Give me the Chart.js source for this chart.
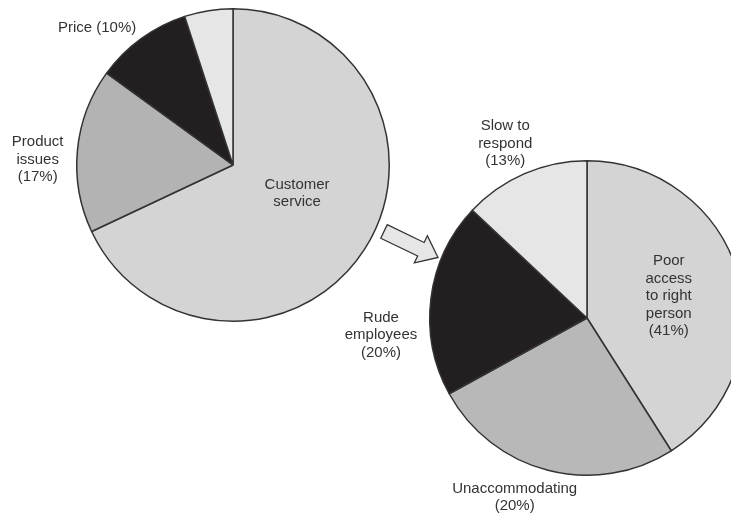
<!DOCTYPE html>
<html>
<head>
<meta charset="utf-8">
<script src="https://cdn.jsdelivr.net/npm/chart.js@4/dist/chart.umd.min.js"></script>
<style>
  html, body { margin: 0; padding: 0; background: #ffffff; overflow: hidden; width: 731px; height: 513px; }
  canvas { position: absolute; left: 0; top: 0; }
</style>
</head>
<body>
<canvas id="left" width="731" height="513" style="width:731px;height:513px"></canvas>
<canvas id="right" width="760" height="513" style="width:760px;height:513px"></canvas>
<script>
// ---- Data: reasons customers leave ----
const leftCategories = ['Customer service', 'Product issues', 'Price', 'Other'];
const leftValues = [68, 17, 10, 5];
const leftLabelLines = [['Customer', 'service'], ['Product', 'issues', '(17%)'], ['Price (10%)'], []];

// ---- Data: breakdown of customer service ----
const rightCategories = ['Poor access to right person', 'Unaccommodating', 'Rude employees', 'Slow to respond'];
const rightValues = [41, 26, 20, 13];
const rightLabelLines = [['Poor', 'access', 'to right', 'person', '(41%)'], ['Unaccommodating', '(20%)'], ['Rude', 'employees', '(20%)'], ['Slow to', 'respond', '(13%)']];

const FONT = '15px "Liberation Sans", Arial, Helvetica, sans-serif';
const TEXT_COLOR = '#333333';
const LINE_H = 17.5;

const sliceLabels = {
  id: 'sliceLabels',
  afterDatasetsDraw(chart, args, opts) {
    const ctx = chart.ctx;
    const meta = chart.getDatasetMeta(0);
    ctx.save();
    ctx.font = FONT;
    ctx.fillStyle = TEXT_COLOR;
    ctx.textAlign = 'center';
    ctx.textBaseline = 'middle';
    meta.data.forEach((arc, i) => {
      const lines = opts.lines[i] || [];
      if (!lines.length) return;
      const p = arc.getProps(['x', 'y', 'outerRadius'], true);
      const off = opts.offsets[i];
      const cx = p.x + off[0] * p.outerRadius;
      const cy = p.y + off[1] * p.outerRadius;
      const startY = cy - (lines.length - 1) * LINE_H / 2;
      lines.forEach((t, k) => ctx.fillText(t, cx, startY + k * LINE_H));
    });
    ctx.restore();
  }
};

const arrowPlugin = {
  id: 'arrowPlugin',
  afterDraw(chart, args, opts) {
    if (!opts.show) return;
    const ctx = chart.ctx;
    const T = [384, 231.5], P = [438, 257.5];
    const dx = P[0] - T[0], dy = P[1] - T[1];
    const len = Math.hypot(dx, dy);
    const u = [dx / len, dy / len], n = [-u[1], u[0]];
    const headLen = 19, shaftW = 7.5, headW = 15;
    const B = [T[0] + u[0] * (len - headLen), T[1] + u[1] * (len - headLen)];
    const pts = [
      [T[0] + n[0] * shaftW, T[1] + n[1] * shaftW],
      [B[0] + n[0] * shaftW, B[1] + n[1] * shaftW],
      [B[0] + n[0] * headW, B[1] + n[1] * headW],
      P,
      [B[0] - n[0] * headW, B[1] - n[1] * headW],
      [B[0] - n[0] * shaftW, B[1] - n[1] * shaftW],
      [T[0] - n[0] * shaftW, T[1] - n[1] * shaftW]
    ];
    ctx.save();
    ctx.beginPath();
    pts.forEach((pt, i) => i ? ctx.lineTo(pt[0], pt[1]) : ctx.moveTo(pt[0], pt[1]));
    ctx.closePath();
    ctx.fillStyle = '#e6e6e6';
    ctx.fill();
    ctx.lineWidth = 1.3;
    ctx.strokeStyle = '#333333';
    ctx.lineJoin = 'miter';
    ctx.stroke();
    ctx.restore();
  }
};

function makePie(id, categories, values, colors, padding, lines, offsets, showArrow) {
  return new Chart(document.getElementById(id), {
    type: 'pie',
    data: {
      labels: categories,
      datasets: [{
        data: values,
        backgroundColor: colors,
        borderColor: '#333333',
        borderWidth: 1.5,
        hoverOffset: 0
      }]
    },
    options: {
      responsive: false,
      animation: false,
      events: [],
      layout: { padding: padding },
      plugins: {
        legend: { display: false },
        tooltip: { enabled: false },
        title: { display: false },
        sliceLabels: { lines: lines, offsets: offsets },
        arrowPlugin: { show: showArrow }
      }
    },
    plugins: [sliceLabels, arrowPlugin]
  });
}

makePie('left', leftCategories, leftValues,
  ['#d4d4d4', '#b3b3b3', '#231f20', '#e6e6e6'],
  { left: 76, top: 8, right: 341, bottom: 191 },
  leftLabelLines,
  [[0.41, 0.18], [-1.25, -0.035], [-0.87, -0.88], [0, 0]],
  true);

makePie('right', rightCategories, rightValues,
  ['#d4d4d4', '#b8b8b8', '#231f20', '#e6e6e6'],
  { left: 429, top: 160, right: 15, bottom: 37 },
  rightLabelLines,
  [[0.52, -0.14], [-0.46, 1.14], [-1.31, 0.11], [-0.52, -1.11]],
  false);
</script>
</body>
</html>
